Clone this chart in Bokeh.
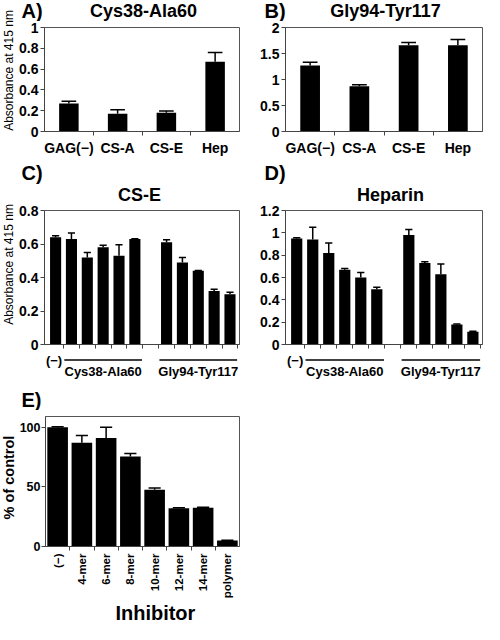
import math
from bokeh.plotting import figure
from bokeh.models import FixedTicker, NumeralTickFormatter, Range1d
from bokeh.core.properties import value
from bokeh.layouts import column, row
from bokeh.embed import file_html
from bokeh.resources import INLINE

FONT = "Liberation Sans"

# ---------------- data ----------------
ab_cats = ["GAG(\u2212)", "CS-A", "CS-E", "Hep"]
a_vals = [0.27, 0.17, 0.18, 0.67]
a_errs = [0.02, 0.04, 0.016, 0.09]
a_ticks = [0, 0.2, 0.4, 0.6, 0.8, 1]

b_vals = [1.27, 0.87, 1.66, 1.66]
b_errs = [0.06, 0.03, 0.05, 0.11]
b_ticks = [0, 0.5, 1, 1.5, 2]

group_names = ["Cys38-Ala60", "Gly94-Tyr117"]
ctrl_label = "(\u2212)"

c_ctrl, c_ctrl_err = 0.64, 0.01
c_g1 = [0.63, 0.52, 0.58, 0.53, 0.63]
c_g1_err = [0.035, 0.03, 0.012, 0.065, 0.002]
c_g2 = [0.61, 0.49, 0.44, 0.32, 0.30]
c_g2_err = [0.015, 0.03, 0.002, 0.01, 0.012]
c_ticks = [0, 0.2, 0.4, 0.6, 0.8]

d_ctrl, d_ctrl_err = 0.95, 0.005
d_g1 = [0.94, 0.82, 0.67, 0.60, 0.495]
d_g1_err = [0.11, 0.09, 0.01, 0.045, 0.018]
d_g2 = [0.98, 0.73, 0.63, 0.18, 0.115]
d_g2_err = [0.05, 0.012, 0.09, 0.004, 0.004]
d_ticks = [0, 0.2, 0.4, 0.6, 0.8, 1, 1.2]

e_cats = ["(\u2212)", "4-mer", "6-mer", "8-mer", "10-mer", "12-mer", "14-mer", "polymer"]
e_vals = [100, 87, 91, 75.5, 47.5, 32, 32.5, 5]
e_errs = [0.5, 6, 9, 2.5, 1.5, 0.5, 0.5, 0.3]
e_ticks = [0, 50, 100]

AX = "#444444"
TOTAL_H = 624
STRIP_W = 16
MAIN_W = 484 - STRIP_W
LEFT_W = 242 - STRIP_W
LB = 26  # left border of the left-hand panels


def txt(p, x, y, s, size, bold=True, align="left", baseline="top", angle=0.0):
    p.text(x=[x], y=[y], text=[s], text_font=value(FONT), text_font_size=value(f"{size}px"),
           text_font_style="bold" if bold else "normal", text_align=align,
           text_baseline=baseline, angle=angle, text_color="black")


def blank(w, h, x_range=None, left=0, right=0):
    p = figure(width=w, height=h,
               x_range=x_range if x_range is not None else Range1d(0, w),
               y_range=Range1d(h, 0), x_axis_type=None, y_axis_type=None,
               toolbar_location=None, output_backend="svg",
               min_border_left=left, min_border_right=right,
               min_border_top=0, min_border_bottom=0)
    p.outline_line_color = None
    p.border_fill_color = "white"
    p.background_fill_color = "white"
    return p


def base_fig(w, h, left, right, top, bottom, xr, yr):
    p = figure(width=w, height=h, x_range=xr, y_range=yr, output_backend="svg",
               toolbar_location=None, min_border_left=left, min_border_right=right,
               min_border_top=top, min_border_bottom=bottom)
    p.grid.visible = False
    p.outline_line_color = "#555555"
    p.outline_line_width = 1
    p.border_fill_color = "white"
    p.background_fill_color = "white"
    for ax in (p.xaxis[0], p.yaxis[0]):
        ax.axis_line_color = AX
        ax.major_tick_line_color = AX
        ax.minor_tick_line_color = AX
        ax.major_label_text_font = FONT
        ax.major_label_text_font_style = "bold"
        ax.major_label_text_font_size = "14px"
        ax.major_label_text_color = "black"
    y = p.yaxis[0]
    y.major_tick_out = 4
    y.major_tick_in = 0
    y.minor_tick_out = 0
    y.minor_tick_in = 0
    y.major_label_standoff = 2
    y.formatter = NumeralTickFormatter(format="0.[0]")
    x = p.xaxis[0]
    x.major_tick_out = 0
    x.major_tick_in = 0
    x.minor_tick_out = 4
    x.minor_tick_in = 0
    x.major_label_standoff = 4
    return p


def bars(p, xs, vals, errs, bw, cw):
    p.vbar(x=xs, top=vals, width=bw, fill_color="black", line_color=None)
    tops = [v + e for v, e in zip(vals, errs)]
    p.segment(x0=xs, y0=vals, x1=xs, y1=tops, line_color="black", line_width=1.5)
    p.segment(x0=[x - cw / 2 for x in xs], y0=tops, x1=[x + cw / 2 for x in xs], y1=tops,
              line_color="black", line_width=1.5)


# ---------------- left strip with the rotated y titles ----------------
strip = blank(STRIP_W, TOTAL_H)
txt(strip, 8, 70, "Absorbance at 415 nm", 12, bold=False, align="center",
    baseline="middle", angle=math.pi / 2)
txt(strip, 8, 264, "Absorbance at 415 nm", 12, bold=False, align="center",
    baseline="middle", angle=math.pi / 2)
txt(strip, 8, 477, "% of control", 14.5, align="center", baseline="middle", angle=math.pi / 2)


# ---------------- row 1: A / B ----------------
def panel_ab(vals, errs, ticks, w, left, right):
    n = len(ab_cats)
    xs = list(range(1, n + 1))
    p = base_fig(w, 137, left, right, 6, 26, Range1d(0.5, n + 0.5), Range1d(0, ticks[-1]))
    bars(p, xs, vals, errs, 0.4, 0.3)
    p.xaxis.ticker = FixedTicker(ticks=xs, minor_ticks=[x + 0.5 for x in xs[:-1]])
    p.xaxis.major_label_overrides = {x: c for x, c in zip(xs, ab_cats)}
    p.yaxis.ticker = FixedTicker(ticks=ticks)
    return p


h1 = blank(MAIN_W, 21)
txt(h1, 5, -0.5, "A)", 20)
txt(h1, 127, 0.5, "Cys38-Ala60", 18, align="center")
txt(h1, 248, -0.5, "B)", 20)
txt(h1, 369, 0.5, "Gly94-Tyr117", 18, align="center")

pA = panel_ab(a_vals, a_errs, a_ticks, LEFT_W, LB, 3)
pB = panel_ab(b_vals, b_errs, b_ticks, 242, 43, 2)


# ---------------- row 2: C / D ----------------
def panel_cd(ctrl, ctrl_err, g1, g1e, g2, g2e, ticks, w, left, right):
    x_ctrl = 1
    x1 = [x_ctrl + 1 + i for i in range(len(g1))]
    x2 = [x1[-1] + 2 + i for i in range(len(g2))]
    xs = [x_ctrl] + x1 + x2
    vals = [ctrl] + g1 + g2
    errs = [ctrl_err] + g1e + g2e
    p = base_fig(w, 148, left, right, 6, 8, Range1d(0.3, x2[-1] + 0.6),
                 Range1d(0, ticks[-1]))
    bars(p, xs, vals, errs, 0.7, 0.45)
    p.xaxis.ticker = FixedTicker(ticks=[], minor_ticks=[x + 0.5 for x in range(x_ctrl, x2[-1] + 1)])
    p.yaxis.ticker = FixedTicker(ticks=ticks)
    # bracket strip under the axis, sharing the x scale
    f = blank(w, 28, x_range=p.x_range, left=left, right=right)
    txt(f, x_ctrl - 0.1, 7.5, ctrl_label, 13, align="center", baseline="middle")
    for grp, name in ((x1, group_names[0]), (x2, group_names[1])):
        f.segment(x0=[grp[0] - 0.45], y0=[7.5], x1=[grp[-1] + 0.45], y1=[7.5],
                  line_color="black", line_width=1.6)
        txt(f, sum(grp) / len(grp), 18.5, name, 13, align="center", baseline="middle")
    return column(p, f)


h2 = blank(MAIN_W, 46)
txt(h2, 5, 3, "C)", 20)
txt(h2, 123, 26, "CS-E", 18, align="center")
txt(h2, 248, 3, "D)", 20)
txt(h2, 374, 26, "Heparin", 18, align="center")

cC = panel_cd(c_ctrl, c_ctrl_err, c_g1, c_g1_err, c_g2, c_g2_err, c_ticks, LEFT_W, LB, 3)
cD = panel_cd(d_ctrl, d_ctrl_err, d_g1, d_g1_err, d_g2, d_g2_err, d_ticks, 242, 43, 2)

# ---------------- row 3: E ----------------
h3 = blank(MAIN_W, 30)
txt(h3, 5, 8, "E)", 20)

n = len(e_cats)
exs = list(range(1, n + 1))
pE = base_fig(LEFT_W, 191, LB, 3, 6, 52, Range1d(0.5, n + 0.5), Range1d(0, 109))
bars(pE, exs, e_vals, e_errs, 0.85, 0.5)
pE.xaxis.ticker = FixedTicker(ticks=exs, minor_ticks=[x + 0.5 for x in exs[:-1]])
pE.xaxis.major_label_overrides = {x: c for x, c in zip(exs, e_cats)}
pE.xaxis.major_label_orientation = math.pi / 2
pE.xaxis.major_label_text_font_size = "11.5px"
pE.xaxis.major_label_standoff = 3
pE.yaxis.ticker = FixedTicker(ticks=e_ticks)
pE.yaxis.major_label_text_font_size = "12.5px"
pE.yaxis.major_label_standoff = 1

fE = blank(LEFT_W, 23)
txt(fE, 128, 11.5, "Inhibitor", 20, align="center", baseline="middle")

main = column(h1, row(pA, pB), h2, row(cC, cD), h3, column(pE, fE))
layout = row(strip, main)
open("out.html", "w").write(file_html(layout, INLINE))
